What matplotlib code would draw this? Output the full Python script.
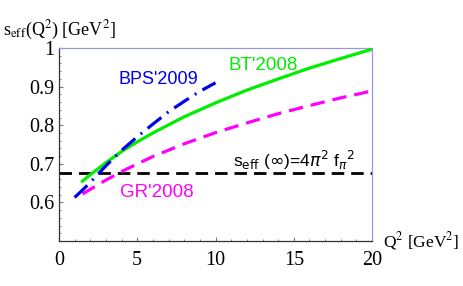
import numpy as np
import matplotlib
matplotlib.use("Agg")
import matplotlib.pyplot as plt
from matplotlib.ticker import MultipleLocator

# Q^2 values (GeV^2) and s_eff
q2_bt = [1.5, 2, 3, 4, 5, 6, 8, 10, 12, 14, 16, 18, 20]
s_bt = [0.655, 0.672, 0.703, 0.732, 0.757, 0.780, 0.822, 0.858, 0.891, 0.920, 0.948, 0.973, 0.997]

q2_gr = [1.5, 2, 3, 4, 5, 6, 8, 10, 12, 14, 16, 18, 20]
s_gr = [0.622, 0.634, 0.658, 0.680, 0.700, 0.719, 0.752, 0.781, 0.806, 0.830, 0.851, 0.871, 0.889]

q2_bps = [1.0, 1.5, 2, 3, 4, 5, 6, 7, 8, 9, 10]
s_bps = [0.613, 0.632, 0.652, 0.695, 0.735, 0.770, 0.803, 0.835, 0.862, 0.888, 0.910]

s_inf = 0.677

serif = ["Liberation Serif", "DejaVu Serif"]
sans = ["Liberation Sans", "DejaVu Sans"]

fig = plt.figure(figsize=(4.64, 2.86), dpi=100)
ax = fig.add_axes([0.127, 0.157, 0.675, 0.675])

ax.axhline(s_inf, color="black", lw=2, ls=(0, (4.5, 2.5)), zorder=2)
ax.plot(q2_gr, s_gr, color="#ff00ff", lw=2.3, ls=(0, (4.5, 2.5)), zorder=3)
ax.plot(q2_bt, s_bt, color="#00ee00", lw=2.3, zorder=4)
ax.plot(q2_bps, s_bps, color="#0000ee", lw=2.3, ls=(0, (5.5, 2.2, 0.6, 2.2)), zorder=5)

ax.set_xlim(0, 20)
ax.set_ylim(0.5, 1.0)
ax.xaxis.set_major_locator(MultipleLocator(5))
ax.xaxis.set_minor_locator(MultipleLocator(1))
ax.set_yticks([0.6, 0.7, 0.8, 0.9, 1.0])
ax.set_yticklabels(["0.6", "0.7", "0.8", "0.9", "1"])
ax.yaxis.set_minor_locator(MultipleLocator(0.02))
ax.tick_params(which="both", direction="in", color="#777777", labelsize=14.5)
ax.tick_params(axis="x", pad=7)
ax.tick_params(axis="y", pad=3)
ax.tick_params(which="major", length=3)
ax.tick_params(which="minor", length=1.5)
for lab in ax.get_xticklabels() + ax.get_yticklabels():
    lab.set_family(serif)

for s in ["left", "bottom"]:
    ax.spines[s].set_color("#333333")
for s in ["top", "right"]:
    ax.spines[s].set_color("#9999dd")
for s in ax.spines.values():
    s.set_linewidth(0.9)

ax.text(10.8, 0.944, "BT'2008", color="#00ee00", fontsize=13.5, family=sans)
ax.text(3.83, 0.908, "BPS'2009", color="#0000ee", fontsize=13, family=sans)
ax.text(3.9, 0.615, "GR'2008", color="#ff00ff", fontsize=13.5, family=sans)
ax.text(11.1, 0.692, r"s$_{\rm eff}$ ($\infty$)=4$\pi^2$ f$_{\pi}$$^2$", color="black",
        fontsize=12.5, family=sans, math_fontfamily="dejavusans")

fig.text(0.007, 0.878, r"s$_{\rm eff}$(Q$^2$) [GeV$^2$]", fontsize=13, family=serif,
         math_fontfamily="stix")
fig.text(0.825, 0.135, r"Q$^2$ [GeV$^2$]", fontsize=12.5, family=serif,
         math_fontfamily="stix")

fig.savefig("out.png", dpi=100)
